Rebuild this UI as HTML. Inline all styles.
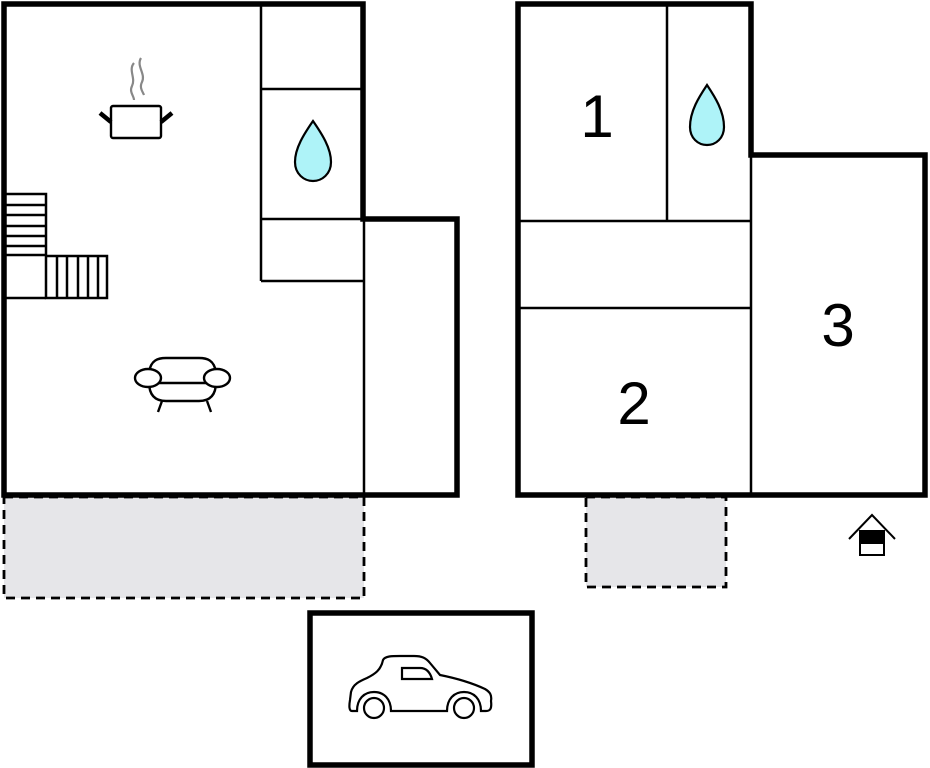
<!DOCTYPE html>
<html><head><meta charset="utf-8"><style>
html,body{margin:0;padding:0;background:#fff;width:930px;height:768px;overflow:hidden}
svg{display:block}
text{font-family:"Liberation Sans",Arial,sans-serif}
</style></head><body>
<svg width="930" height="768" viewBox="0 0 930 768" xmlns="http://www.w3.org/2000/svg">
<rect x="4" y="497" width="360" height="101" fill="#e6e6e9" stroke="#000" stroke-width="2.8" stroke-dasharray="9,6"/>
<rect x="586" y="497" width="140" height="90" fill="#e6e6e9" stroke="#000" stroke-width="2.8" stroke-dasharray="9,6"/>

<g stroke="#000" stroke-width="2.5" fill="none">
<line x1="261" y1="4" x2="261" y2="281"/>
<line x1="261" y1="89" x2="363" y2="89"/>
<line x1="261" y1="219" x2="363" y2="219"/>
<line x1="261" y1="281" x2="363" y2="281"/>
<line x1="364" y1="219" x2="364" y2="495"/>
<rect x="4" y="194" width="42" height="61"/>
<line x1="4" y1="205" x2="46" y2="205"/>
<line x1="4" y1="215" x2="46" y2="215"/>
<line x1="4" y1="226" x2="46" y2="226"/>
<line x1="4" y1="236" x2="46" y2="236"/>
<line x1="4" y1="246" x2="46" y2="246"/>
<rect x="46" y="256" width="61" height="42"/>
<line x1="4" y1="298" x2="46" y2="298"/>
<line x1="57" y1="256" x2="57" y2="298"/>
<line x1="67" y1="256" x2="67" y2="298"/>
<line x1="78" y1="256" x2="78" y2="298"/>
<line x1="88" y1="256" x2="88" y2="298"/>
<line x1="98" y1="256" x2="98" y2="298"/>
</g>
<path d="M4,4 H363 V219 H457 V495 H4 Z" fill="none" stroke="#000" stroke-width="5.5"/>

<g stroke="#000" stroke-width="2.5" fill="none">
<line x1="519" y1="221" x2="750" y2="221"/>
<line x1="519" y1="308" x2="750" y2="308"/>
<line x1="667" y1="4" x2="667" y2="221"/>
<line x1="751" y1="155" x2="751" y2="495"/>
</g>
<path d="M518,4 H751 V155 H925 V495 H518 Z" fill="none" stroke="#000" stroke-width="5.5"/>

<text x="597" y="137" font-size="60" text-anchor="middle">1</text>
<text x="634" y="424" font-size="60" text-anchor="middle">2</text>
<text x="838" y="346" font-size="60" text-anchor="middle">3</text>

<path d="M313,121 C322,134 331,148 331,162 C331,174 322,181 313,181 C304,181 295,174 295,162 C295,148 304,134 313,121 Z" fill="#aef3f8" stroke="#000" stroke-width="2.2"/>
<path d="M707,85 C715,97 724,111 724,127 C724,138 716,145 707,145 C698,145 690,138 690,127 C690,111 699,97 707,85 Z" fill="#aef3f8" stroke="#000" stroke-width="2.2"/>

<g fill="none">
<path d="M134,63 C128,70 136,78 132,86 C129,92 134,96 134,100" stroke="#888" stroke-width="2.2"/>
<path d="M141,58 C136,66 146,74 142,82 C139,88 143,92 144,95" stroke="#888" stroke-width="2.2"/>
<rect x="111" y="106" width="50" height="32" rx="2" stroke="#000" stroke-width="2.4"/>
<line x1="100" y1="113" x2="111" y2="122" stroke="#000" stroke-width="4.5"/>
<line x1="172" y1="113" x2="161" y2="122" stroke="#000" stroke-width="4.5"/>
</g>

<g fill="none" stroke="#000" stroke-width="2.4">
<path d="M149,372 C151,360 158,358 166,358 H199 C207,358 214,360 216,372"/>
<path d="M149,382 C149,396 156,401 166,401 H199 C209,401 216,396 216,382"/>
<line x1="158" y1="383" x2="207" y2="383"/>
<ellipse cx="148" cy="378" rx="13" ry="9" fill="#fff"/>
<ellipse cx="217" cy="378" rx="13" ry="9" fill="#fff"/>
<line x1="162" y1="401" x2="158" y2="412"/>
<line x1="207" y1="401" x2="211" y2="412"/>
</g>

<rect x="310" y="613" width="222" height="152" fill="none" stroke="#000" stroke-width="5.5"/>
<g fill="none" stroke="#000" stroke-width="2.2">
<path d="M352,711 C349,711 349,706 350,700 L351,692 C353,684 360,681 367,678 C375,674 381,670 383,660 C385,656 392,656 400,656 H414 C422,656 426,658 430,663 L440,675 C455,678 470,682 485,689 C490,692 492,695 491,701 C492,709 490,711 486,711 H481 C481,699 474,692 464,692 C454,692 447,699 447,711 H391 C391,699 384,692 374,692 C364,692 357,699 357,711 Z" fill="#fff"/>
<circle cx="374" cy="708" r="10" fill="#fff"/>
<circle cx="464" cy="708" r="10" fill="#fff"/>
<path d="M402,668 H420 C426,668 430,672 432,679 H402 Z"/>
</g>

<g fill="none" stroke="#000" stroke-width="2">
<path d="M849,539 L872,515 L895,539"/>
<rect x="860" y="531" width="24" height="24" fill="#fff"/>
<rect x="860" y="531" width="24" height="12" fill="#000"/>
</g>
</svg>
</body></html>
